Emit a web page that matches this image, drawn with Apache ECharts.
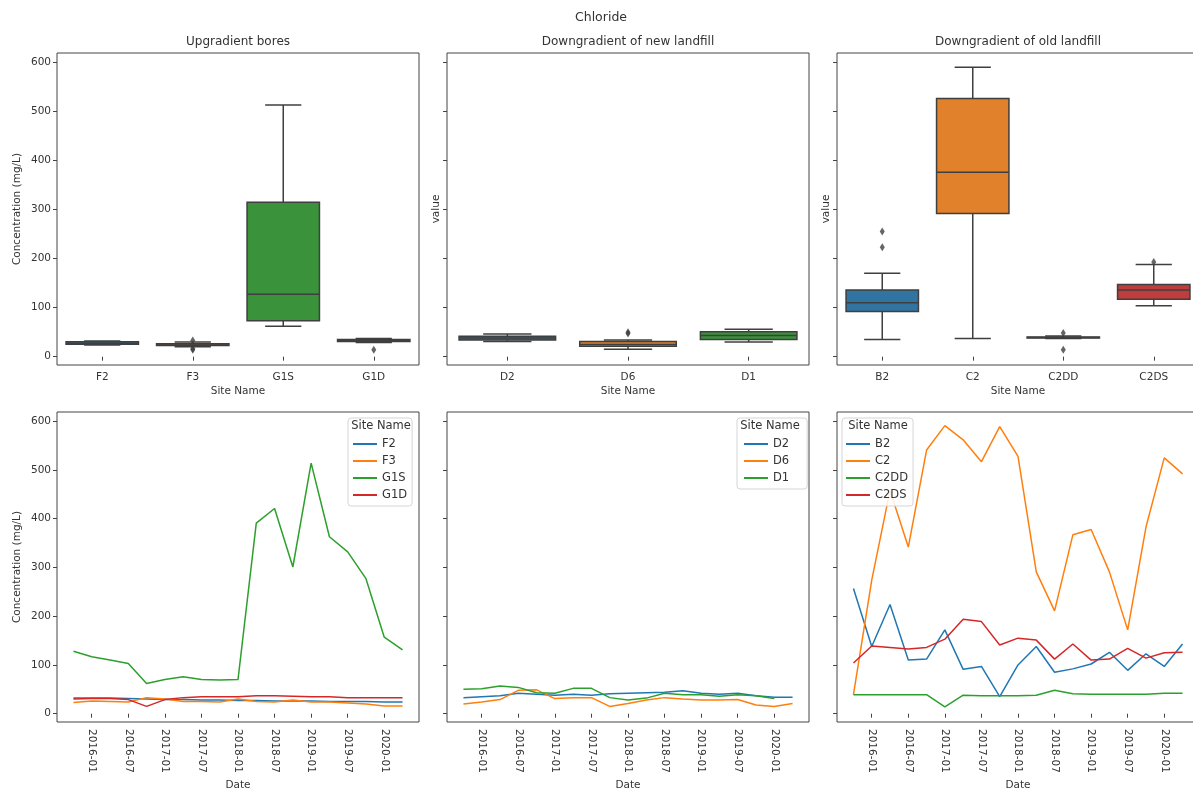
<!DOCTYPE html>
<html><head><meta charset="utf-8">
<script src="https://cdn.jsdelivr.net/npm/echarts@6/dist/echarts.min.js"></script>
<style>html,body{margin:0;padding:0;background:#fff}#c{width:1193px;height:789px}</style>
</head><body><div id="c"></div><script>
// ---------- data ----------
const dates = ['2015-10','2016-01','2016-04','2016-07','2016-10','2017-01','2017-04','2017-07','2017-10','2018-01','2018-04','2018-07','2018-10','2019-01','2019-04','2019-07','2019-10','2020-01','2020-04'];
const xTickLabels = ['2016-01','2016-07','2017-01','2017-07','2018-01','2018-07','2019-01','2019-07','2020-01'];
const yTicks = [0,100,200,300,400,500,600];

const upSites = ['F2','F3','G1S','G1D'];
const newSites = ['D2','D6','D1'];
const oldSites = ['B2','C2','C2DD','C2DS'];

// time series (mg/L)
const F2  = [32,32,32,31,30,29,29,28,28,27,27,26,26,26,25,25,25,24,24];
const F3  = [23,26,25,24,33,30,25,25,24,30,25,24,28,24,24,22,20,16,16];
const G1S = [128,117,110,103,62,70,76,70,69,70,391,421,301,514,363,332,277,157,131];
const G1D = [30,31,31,29,15,29,33,35,35,35,37,37,36,35,35,33,33,33,33];

const D2 = [33,35,37,42,40,38,40,38,41,42,43,44,47,42,40,42,37,34,34];
const D6 = [20,24,29,48,49,31,33,33,15,21,28,33,30,28,28,29,18,15,21];
const D1 = [50,51,57,54,43,42,52,52,33,28,32,42,39,39,36,39,37,31,null];

const B2   = [257,138,224,110,112,172,91,97,35,100,138,85,92,102,126,89,123,97,143];
const C2   = [39,274,458,342,541,591,562,517,589,528,291,211,367,378,291,172,383,525,492];
const C2DD = [39,39,39,39,39,14,38,37,37,37,38,48,41,40,40,40,40,42,42];
const C2DS = [104,139,136,133,136,153,194,189,141,155,151,112,143,110,112,134,114,125,126];

// box statistics [min, q1, median, q3, max] and outliers
const upBox  = [[24,25.5,27.5,30.5,32],[20,22.5,24,26.5,30],[62,73,127,315,513],[29,31,33,35,37]];
const upOut  = [[],[33,16,14],[],[14]];
const newBox = [[31,34,38,41.5,46],[15,21,25,31,34],[30,35,43,51,56]];
const newOut = [[],[47,50],[]];
const oldBox = [[35,92,110,136,170],[37,292,376,526,590],[37,38,39,40,42],[104,117,136,147,188]];
const oldOut = [[255,223],[],[48,14],[193]];

// ---------- styles ----------
const FONT = 'DejaVu Sans';
const TXT = '#333';
const AX = '#444';
const lineColors = ['#1f77b4','#ff7f0e','#2ca02c','#d62728'];
const boxColors  = ['#3274a1','#e1812c','#3a923a','#c03d3e'];
const boxLine = '#3f3f3f';

function toMonth(s){ const p = s.split('-'); return (+p[0]-2015)*12 + (+p[1]-1); }
function fmtMonth(v){ const y = 2015 + Math.floor(v/12); const m = Math.round(v - (y-2015)*12) + 1; return y + '-' + (m<10?'0':'') + m; }
const xMonths = dates.map(toMonth);
const xTickVals = xTickLabels.map(toMonth);
const xMin = xMonths[0] - 0.05*(xMonths[xMonths.length-1]-xMonths[0]);
const xMax = xMonths[xMonths.length-1] + 0.05*(xMonths[xMonths.length-1]-xMonths[0]);

const cols = [57, 447, 837];
const W = 362;
const grids = [];
cols.forEach(l => grids.push({left:l, top:53, width:W, height:312}));
cols.forEach(l => grids.push({left:l, top:412, width:W, height:310}));
grids.forEach(g => { g.show = true; g.borderColor = AX; g.borderWidth = 1; g.backgroundColor = 'transparent'; g.containLabel = false; g.outerBoundsMode = 'none'; });

function yAxis(gi, name, showLabels){
  return {type:'value', gridIndex:gi, min:-17, max:619,
    axisLine:{show:false}, splitLine:{show:false},
    axisTick:{show:true, length:4, customValues:yTicks, lineStyle:{color:AX}},
    axisLabel:{show:showLabels, customValues:yTicks, margin:6, fontSize:10.5, color:TXT, fontFamily:FONT},
    name:name, nameLocation:'middle', nameGap: showLabels ? 34 : 5,
    nameTextStyle:{fontSize:10.5, color:TXT, fontFamily:FONT}};
}
function catAxis(gi, cats){
  return {type:'category', gridIndex:gi, data:cats, boundaryGap:true,
    axisLine:{show:false}, splitLine:{show:false},
    axisTick:{show:true, alignWithLabel:true, length:4, lineStyle:{color:AX}},
    axisLabel:{margin:7, fontSize:10.5, color:TXT, fontFamily:FONT},
    name:'Site Name', nameLocation:'middle', nameGap:21,
    nameTextStyle:{fontSize:10.5, color:TXT, fontFamily:FONT}};
}
function timeAxis(gi){
  return {type:'value', gridIndex:gi, min:xMin, max:xMax,
    axisLine:{show:false}, splitLine:{show:false},
    axisTick:{show:true, length:4, customValues:xTickVals, lineStyle:{color:AX}},
    axisLabel:{customValues:xTickVals, rotate:-90, margin:7, fontSize:10.5, color:TXT, fontFamily:FONT, formatter:fmtMonth},
    name:'Date', nameLocation:'middle', nameGap:58,
    nameTextStyle:{fontSize:10.5, color:TXT, fontFamily:FONT}};
}

function boxRender(params, api){
  const x = api.value(0);
  const mn = api.coord([x, api.value(1)]);
  const q1 = api.coord([x, api.value(2)]);
  const md = api.coord([x, api.value(3)]);
  const q3 = api.coord([x, api.value(4)]);
  const mx = api.coord([x, api.value(5)]);
  const bw = api.size([1,0])[0]*0.8;
  const cw = bw/4;
  const cx = mn[0];
  const ls = {stroke:boxLine, lineWidth:1.5};
  return {type:'group', children:[
    {type:'line', shape:{x1:cx, y1:q3[1], x2:cx, y2:mx[1]}, style:ls},
    {type:'line', shape:{x1:cx, y1:q1[1], x2:cx, y2:mn[1]}, style:ls},
    {type:'line', shape:{x1:cx-cw, y1:mx[1], x2:cx+cw, y2:mx[1]}, style:ls},
    {type:'line', shape:{x1:cx-cw, y1:mn[1], x2:cx+cw, y2:mn[1]}, style:ls},
    {type:'rect', shape:{x:cx-bw/2, y:q3[1], width:bw, height:q1[1]-q3[1]}, style:{fill:boxColors[params.dataIndex], stroke:boxLine, lineWidth:1.5}},
    {type:'line', shape:{x1:cx-bw/2, y1:md[1], x2:cx+bw/2, y2:md[1]}, style:ls}
  ]};
}

const series = [];
function addBox(gi, box, out){
  series.push({type:'custom', xAxisIndex:gi, yAxisIndex:gi, name:'box'+gi, renderItem:boxRender,
    encode:{x:0, y:[1,2,3,4,5]}, data: box.map((b,i)=>[i].concat(b)), z:2});
  const od = [];
  out.forEach((arr,i)=>arr.forEach(v=>od.push([i,v])));
  series.push({type:'scatter', xAxisIndex:gi, yAxisIndex:gi, name:'out'+gi, symbol:'diamond', symbolSize:[5,8],
    itemStyle:{color:boxLine}, data:od, z:3});
}
addBox(0, upBox, upOut);
addBox(1, newBox, newOut);
addBox(2, oldBox, oldOut);

function addLines(gi, names, arrs){
  names.forEach((n,k)=>{
    series.push({type:'line', name:n, xAxisIndex:gi, yAxisIndex:gi, color:lineColors[k],
      showSymbol:false, symbol:'none', lineStyle:{width:1.5, color:lineColors[k]},
      data: arrs[k].map((v,i)=>[xMonths[i], v]), connectNulls:false});
  });
}
addLines(3, upSites, [F2,F3,G1S,G1D]);
addLines(4, newSites, [D2,D6,D1]);
addLines(5, oldSites, [B2,C2,C2DD,C2DS]);

function legend(names, left, pad){
  return {data:names, orient:'vertical', left:left, top:418, icon:'rect', itemWidth:24, itemHeight:2,
    itemGap:3, padding:pad, backgroundColor:'rgba(255,255,255,0.85)', borderColor:'#d5d5d5',
    borderWidth:1, borderRadius:3, selectedMode:false,
    textStyle:{fontSize:11.5, color:TXT, fontFamily:FONT, lineHeight:14}};
}

function txt(s, x, y, size){
  return {type:'text', x:x, y:y, style:{text:s, textAlign:'center', textVerticalAlign:'middle',
    font: size+'px "'+FONT+'"', fill:TXT}, z:100};
}

const option = {
  animation:false,
  grid: grids,
  xAxis: [catAxis(0,upSites), catAxis(1,newSites), catAxis(2,oldSites), timeAxis(3), timeAxis(4), timeAxis(5)],
  yAxis: [yAxis(0,'Concentration (mg/L)',true), yAxis(1,'value',false), yAxis(2,'value',false),
          yAxis(3,'Concentration (mg/L)',true), yAxis(4,'',false), yAxis(5,'',false)],
  legend: [legend(upSites, 348, [19,5,4,5]), legend(newSites, 737, [19,18,4,7]), legend(oldSites, 842, [19,5,4,4])],
  series: series,
  graphic: [
    txt('Chloride', 601, 18, 12.5),
    txt('Upgradient bores', 238, 42, 12),
    txt('Downgradient of new landfill', 628, 42, 12),
    txt('Downgradient of old landfill', 1018, 42, 12),
    txt('Site Name', 381, 426, 11.5),
    txt('Site Name', 770, 426, 11.5),
    txt('Site Name', 878, 426, 11.5)
  ]
};
const chart = echarts.init(document.getElementById('c'), null, {renderer:'canvas'});
chart.setOption(option);
</script></body></html>
